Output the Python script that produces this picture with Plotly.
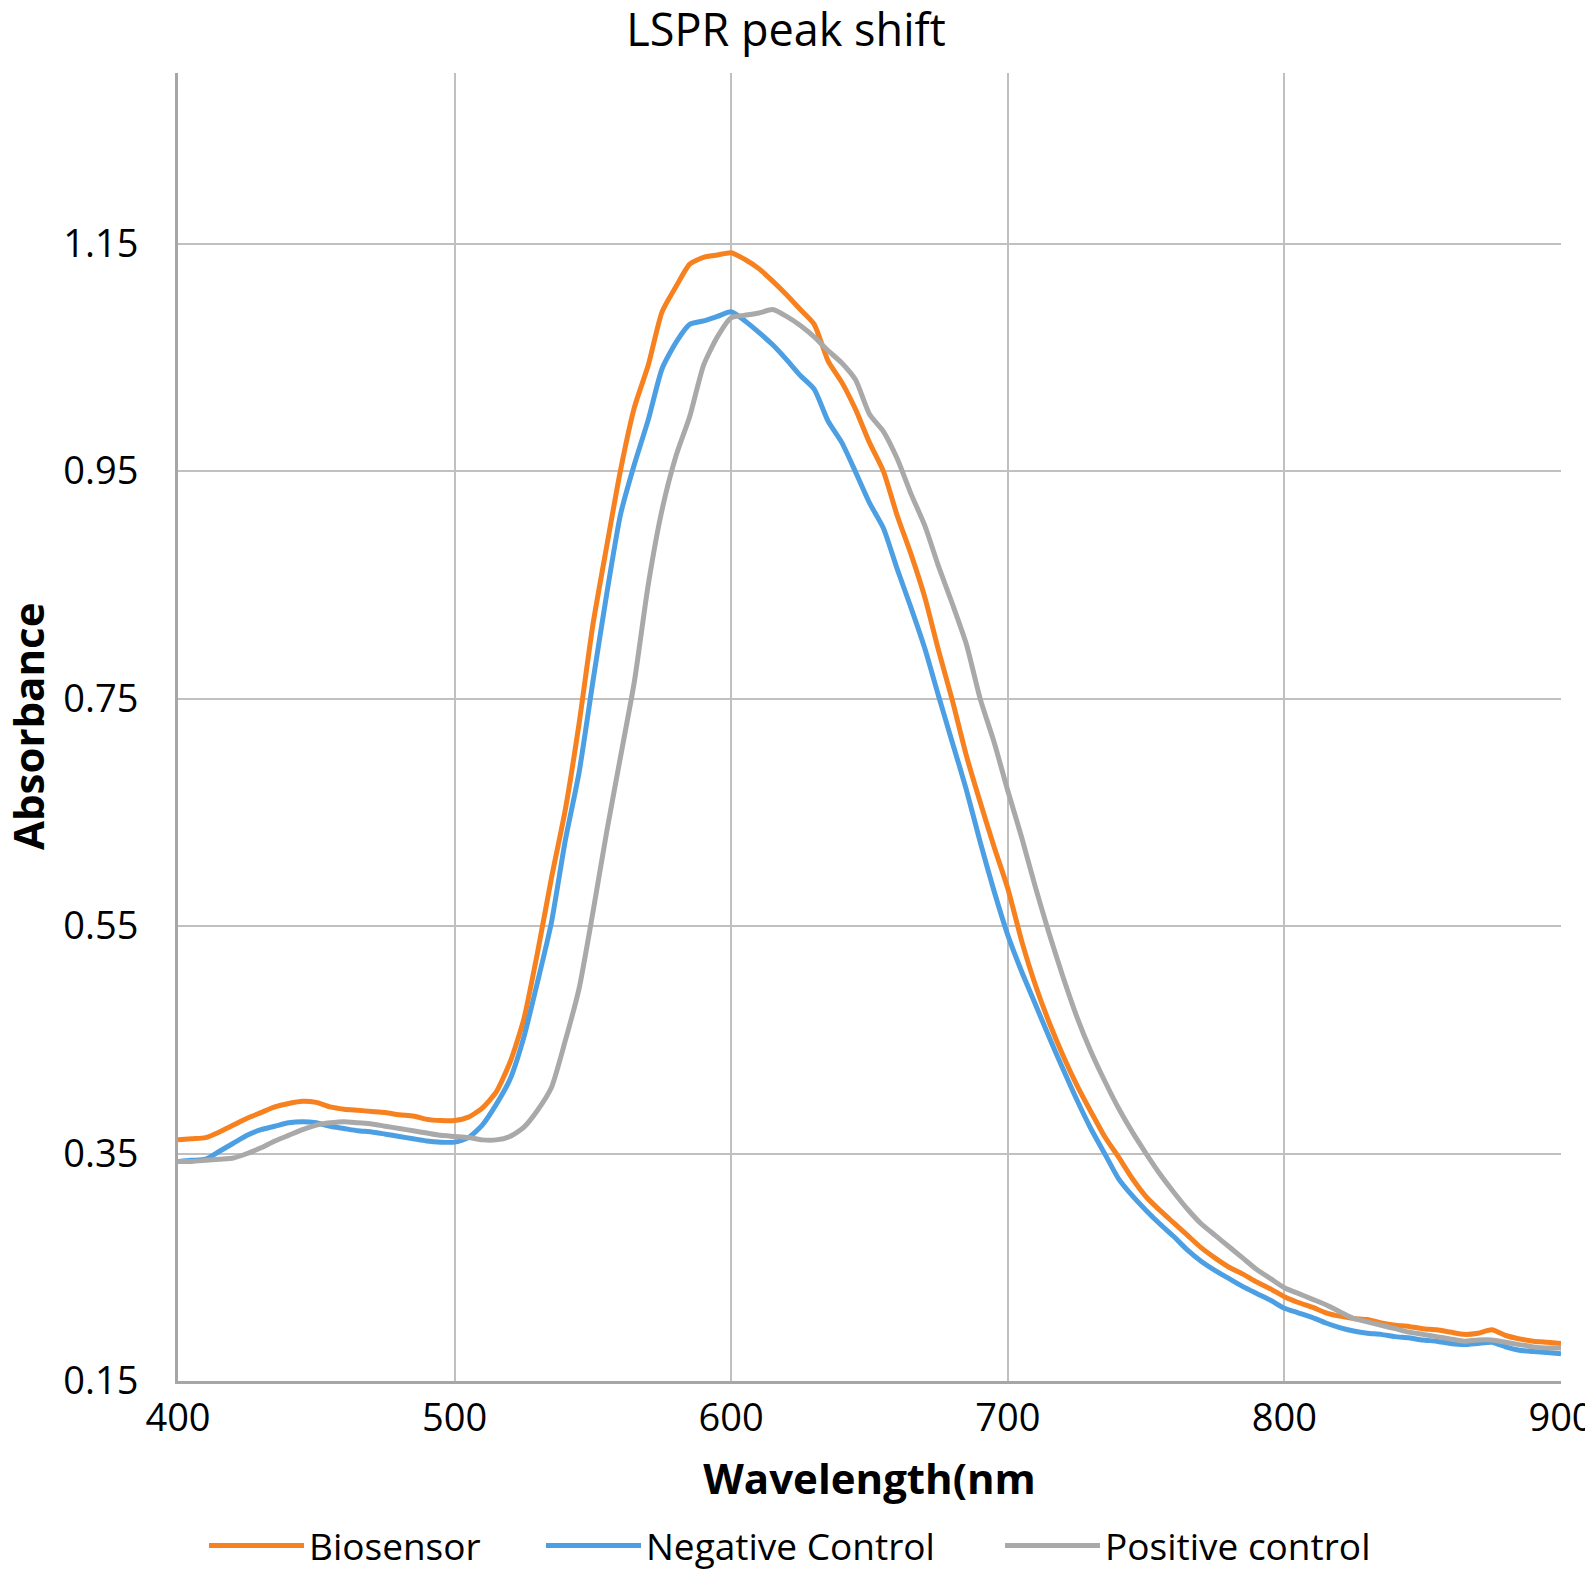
import plotly.graph_objects as go

wavelength = list(range(400, 905, 5))

biosensor = [
    0.362, 0.363, 0.364, 0.369, 0.375, 0.381, 0.386, 0.391, 0.394, 0.396,
    0.395, 0.391, 0.389, 0.388, 0.387, 0.386, 0.384, 0.383, 0.380, 0.379,
    0.379, 0.382, 0.390, 0.404, 0.430, 0.468, 0.527, 0.592, 0.652, 0.728,
    0.815, 0.884, 0.951, 1.006, 1.043, 1.090, 1.112, 1.132, 1.138, 1.140,
    1.142, 1.136, 1.128, 1.117, 1.105, 1.092, 1.079, 1.047, 1.028, 1.004,
    0.975, 0.950, 0.911, 0.877, 0.839, 0.792, 0.748, 0.700, 0.659, 0.620,
    0.583, 0.537, 0.498, 0.465, 0.436, 0.410, 0.387, 0.365, 0.347, 0.328,
    0.312, 0.300, 0.289, 0.278, 0.267, 0.258, 0.250, 0.244, 0.237, 0.231,
    0.224, 0.219, 0.215, 0.210, 0.207, 0.205, 0.204, 0.201, 0.199, 0.198,
    0.196, 0.195, 0.193, 0.191, 0.192, 0.195, 0.190, 0.187, 0.185, 0.184,
    0.183,
]

negative_control = [
    0.343, 0.344, 0.345, 0.352, 0.359, 0.366, 0.371, 0.374, 0.377, 0.378,
    0.377, 0.374, 0.372, 0.370, 0.369, 0.367, 0.365, 0.363, 0.361, 0.360,
    0.360, 0.364, 0.375, 0.393, 0.415, 0.452, 0.501, 0.553, 0.625, 0.685,
    0.765, 0.842, 0.912, 0.956, 0.995, 1.040, 1.063, 1.079, 1.082, 1.086,
    1.090, 1.082, 1.072, 1.061, 1.048, 1.034, 1.022, 0.994, 0.975, 0.949,
    0.922, 0.900, 0.864, 0.830, 0.794, 0.752, 0.711, 0.670, 0.624, 0.581,
    0.542, 0.510, 0.481, 0.452, 0.424, 0.397, 0.372, 0.350, 0.328, 0.313,
    0.300, 0.288, 0.277, 0.265, 0.255, 0.247, 0.240, 0.233, 0.227, 0.221,
    0.214, 0.210, 0.206, 0.201, 0.197, 0.194, 0.192, 0.191, 0.189, 0.188,
    0.186, 0.185, 0.183, 0.182, 0.183, 0.184, 0.180, 0.177, 0.176, 0.175,
    0.174,
]

positive_control = [
    0.343, 0.343, 0.344, 0.345, 0.346, 0.350, 0.355, 0.361, 0.366, 0.371,
    0.375, 0.377, 0.378, 0.377, 0.376, 0.374, 0.372, 0.370, 0.368, 0.366,
    0.365, 0.364, 0.362, 0.362, 0.365, 0.373, 0.388, 0.408, 0.449, 0.495,
    0.562, 0.633, 0.699, 0.765, 0.850, 0.916, 0.963, 0.998, 1.043, 1.068,
    1.085, 1.087, 1.089, 1.092, 1.086, 1.078, 1.068, 1.056, 1.045, 1.030,
    1.000, 0.985, 0.961, 0.930, 0.902, 0.866, 0.833, 0.798, 0.750, 0.712,
    0.669, 0.628, 0.584, 0.543, 0.505, 0.470, 0.440, 0.414, 0.390, 0.369,
    0.350, 0.332, 0.316, 0.301, 0.288, 0.278, 0.268, 0.258, 0.248, 0.240,
    0.232, 0.227, 0.222, 0.217, 0.211, 0.205, 0.202, 0.199, 0.196, 0.193,
    0.191, 0.189, 0.187, 0.185, 0.186, 0.186, 0.184, 0.182, 0.180, 0.179,
    0.179,
]

series_names = ["Biosensor", "Negative Control", "Positive control"]
series_colors = ["#F7801F", "#4C9FE3", "#A9A9A9"]
legend_ids = ["legend", "legend2", "legend3"]

x_tickvals = [400, 500, 600, 700, 800, 900]
y_tickvals = [0.15, 0.35, 0.55, 0.75, 0.95, 1.15]
y_ticktext = ["0.15", "0.35", "0.55", "0.75", "0.95", "1.15"]

W, H = 1585, 1564

fig = go.Figure()
for name, ys, col, lg in zip(series_names, [biosensor, negative_control, positive_control],
                             series_colors, legend_ids):
    fig.add_trace(go.Scatter(
        x=wavelength, y=ys, mode="lines", name=name, legend=lg,
        line=dict(color=col, width=5, shape="spline", smoothing=0.6),
    ))

font_main = "Open Sans, Noto Sans, sans-serif"
legend_font = dict(family=font_main, size=37, color="black")
legend_left_px = [196, 533, 992]


def make_legend(px):
    return dict(orientation="h", xref="container", yref="container",
                x=px / W, xanchor="left", y=1 - 1538 / H, yanchor="middle",
                font=legend_font, itemwidth=95, bgcolor="rgba(0,0,0,0)")


fig.update_layout(
    width=W, height=H,
    paper_bgcolor="white", plot_bgcolor="white",
    margin=dict(l=170, r=32, t=65, b=191),
    title=dict(text="LSPR peak shift", x=778 / W, xanchor="center", xref="container",
               y=1 - 22 / H, yanchor="middle", yref="container",
               font=dict(family=font_main, size=45, color="black")),
    font=dict(family=font_main, color="black"),
    showlegend=True,
    legend=make_legend(legend_left_px[0]),
    legend2=make_legend(legend_left_px[1]),
    legend3=make_legend(legend_left_px[2]),
    xaxis=dict(
        range=[400, 900], tickvals=x_tickvals, ticks="", automargin=False,
        showgrid=True, gridcolor="#c0c0c0", gridwidth=2,
        showline=True, linecolor="#a6a6a6", linewidth=3, zeroline=False,
        tickfont=dict(family=font_main, size=38, color="black"),
        ticklabelstandoff=1, ticklabeloverflow="allow",
        title=dict(text="<b>Wavelength(nm</b>", font=dict(family=font_main, size=42, color="black"), standoff=25),
    ),
    yaxis=dict(
        range=[0.15, 1.3], tickvals=y_tickvals, ticktext=y_ticktext, ticks="", automargin=False,
        showgrid=True, gridcolor="#c0c0c0", gridwidth=2,
        showline=True, linecolor="#a6a6a6", linewidth=3, zeroline=False,
        tickfont=dict(family=font_main, size=38, color="black"),
        ticklabelstandoff=29, ticklabeloverflow="allow",
    ),
    annotations=[dict(
        text="<b>Absorbance</b>", textangle=-90, showarrow=False,
        xref="paper", yref="paper", x=(19 - 170) / 1383, y=0.5,
        xanchor="center", yanchor="middle",
        font=dict(family=font_main, size=42, color="black"),
    )],
)

fig.write_html("out.html")
